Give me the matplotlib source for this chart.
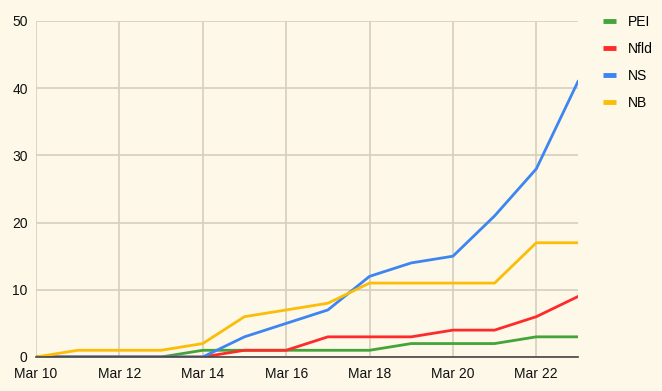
import matplotlib.pyplot as plt
from matplotlib.lines import Line2D

# daily cumulative cases, Mar 10 .. Mar 23
days = [10, 11, 12, 13, 14, 15, 16, 17, 18, 19, 20, 21, 22, 23]
pei = [0, 0, 0, 0, 1, 1, 1, 1, 1, 2, 2, 2, 3, 3]
nfld = [0, 0, 0, 0, 0, 1, 1, 3, 3, 3, 4, 4, 6, 9]
ns = [0, 0, 0, 0, 0, 3, 5, 7, 12, 14, 15, 21, 28, 41]
nb = [0, 1, 1, 1, 2, 6, 7, 8, 11, 11, 11, 11, 17, 17]

series = ['PEI', 'Nfld', 'NS', 'NB']
colors = ['#43a43a', '#ff2a2a', '#3d85f0', '#fbbd08']
tick_days = [10, 12, 14, 16, 18, 20, 22]
tick_labels = ['Mar %d' % d for d in tick_days]

bg = '#fdf8e8'
grid = '#d6cfbd'

plt.rcParams['font.family'] = ['Liberation Sans', 'DejaVu Sans']

fig = plt.figure(figsize=(6.62, 3.91), dpi=100, facecolor=bg)
ax = fig.add_axes([36 / 662, 34 / 391, 542 / 662, 336 / 391])
ax.set_facecolor(bg)

for name, vals, c in zip(series, [pei, nfld, ns, nb], colors):
    ax.plot(days, vals, color=c, lw=2, label=name, solid_joinstyle='round')

ax.set_xlim(10, 23)
ax.set_ylim(0, 50)
ax.set_xticks(tick_days)
ax.set_xticklabels(tick_labels)
ax.set_yticks([0, 10, 20, 30, 40, 50])
ax.grid(True, color=grid, lw=1.2)
ax.set_axisbelow(True)
ax.tick_params(length=0, labelsize=10, colors='#111111')
ax.tick_params(axis='x', pad=7)
ax.tick_params(axis='y', pad=6)
for s in ['top', 'right', 'left']:
    ax.spines[s].set_visible(False)
ax.spines['bottom'].set_color('#444444')
ax.spines['bottom'].set_linewidth(1.2)
ax.spines['bottom'].set_zorder(5)

handles = [Line2D([0], [0], color=c, lw=3.5, solid_capstyle='butt') for c in colors]
fig.legend(handles, series, loc='upper left', bbox_to_anchor=(590 / 662, 1 - 2 / 391),
           frameon=False, handlelength=1.0, handletextpad=0.8, labelspacing=0.95,
           fontsize=10)

fig.savefig('out.png', dpi=100, facecolor=bg)
